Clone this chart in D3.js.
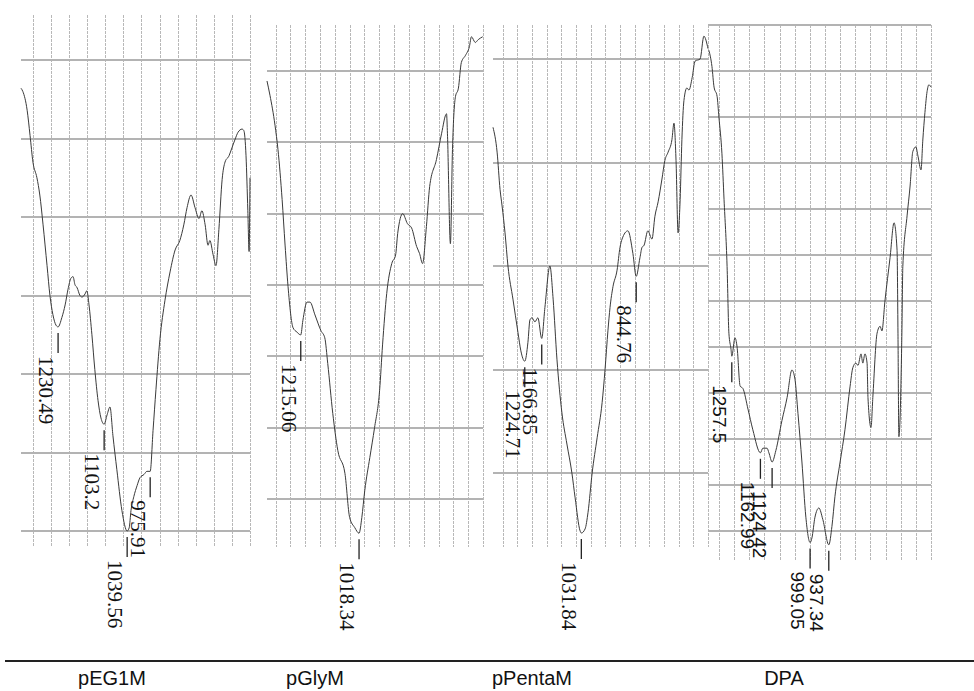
<!DOCTYPE html>
<html>
<head>
<meta charset="utf-8">
<script src="https://cdn.jsdelivr.net/npm/d3@7"></script>
<style>
  body { margin: 0; background: #fff; }
  svg { display: block; }
</style>
</head>
<body>
<div id="chart"></div>
<script>
// sample names under the baseline
const categories = ['pEG1M', 'pGlyM', 'pPentaM', 'DPA'];

// spectra: [wavenumber cm-1, transmittance %]
const specEG1M = [[1333,78.2],[1328,78.0],[1316,76.8],[1308,75.2],[1300,73.5],[1289,72.5],[1281,71.4],[1272,69.5],[1261,66.9],[1253,65.0],[1245,63.8],[1236,63.1],[1230.5,63.0],[1220,63.6],[1211,64.4],[1203,65.4],[1195,66.1],[1189,66.2],[1184,65.7],[1178,65.5],[1170,65.0],[1164,64.9],[1156,65.1],[1151,65.3],[1145,64.4],[1137,62.5],[1129,60.3],[1120,58.3],[1112,57.2],[1103.2,56.8],[1095,57.4],[1087,57.9],[1079,56.1],[1068,53.9],[1054,51.3],[1039.6,50.0],[1034,50.2],[1029,51.3],[1021,52.2],[1012,52.9],[1004,53.4],[993,53.6],[985,53.8],[975.9,53.8],[968,56.4],[960,59.0],[949,62.2],[935,64.7],[921,66.5],[907,67.9],[894,68.5],[883,69.5],[874,70.6],[863,71.4],[852,70.6],[841,69.9],[833,70.4],[824,69.5],[816,68.2],[811,68.5],[802,67.6],[794,66.9],[786,69.2],[777,72.4],[769,73.5],[758,73.9],[750,74.4],[742,74.9],[733,75.4],[722,75.6],[717,75.5],[711,73.9],[706,70.4],[702.5,67.8],[700,72.5]];

const specGlyM = [[1329,69.3],[1319,68.3],[1302,66.2],[1292,64.5],[1278,61.0],[1268,57.8],[1258,54.9],[1241,52.0],[1228,51.7],[1215.1,51.5],[1208,52.5],[1194,53.8],[1184,53.8],[1167,52.9],[1147,51.8],[1134,51.3],[1124,49.5],[1107,46.0],[1090,43.4],[1066,41.8],[1050,38.7],[1033,38.0],[1018.3,37.6],[1009,38.7],[999,40.6],[982,42.9],[966,45.0],[949,47.6],[939,50.8],[925,54.4],[908,56.5],[895,57.1],[888,58.6],[871,60.0],[855,59.3],[841,59.0],[824,57.7],[814,57.2],[804,56.5],[791,59.1],[780,61.9],[757,63.8],[740,65.6],[723,67.0],[720,65.6],[710,57.9],[703,64.5],[693,68.2],[683,68.8],[673,70.6],[659,71.1],[646,71.7],[639,72.4],[626,72.0],[616,72.2],[601,72.4]];

const specPentaM = [[1333,66.7],[1319,65.5],[1309,63.7],[1302,62.9],[1292,61.6],[1282,60.0],[1265,58.4],[1248,56.8],[1238,55.9],[1224.7,55.4],[1214,56.3],[1207,57.4],[1200,57.5],[1190,57.3],[1180,57.5],[1166.9,56.5],[1156,58.0],[1139,60.0],[1128,58.4],[1115,55.5],[1098,52.9],[1081,51.4],[1064,50.0],[1053,48.8],[1036,47.2],[1031.8,47.1],[1019,47.3],[1009,48.1],[995,50.0],[978,51.7],[961,53.4],[951,55.0],[941,56.9],[934,58.0],[924,59.0],[910,59.8],[900,60.9],[893,61.3],[873,61.7],[856,60.6],[844.8,59.5],[832,60.4],[825,60.9],[818,61.0],[805,61.7],[791,61.3],[781,62.4],[770,63.1],[757,64.2],[747,65.1],[736,65.5],[723,66.1],[716,66.9],[709,65.1],[702,61.6],[695,63.2],[689,66.1],[682,68.0],[672,68.6],[665,68.5],[654,69.1],[644,69.9],[627,70.0],[614,71.1],[600,70.5]];

const specDPA = [[1333,50.9],[1323,50.2],[1316,49.3],[1306,48.9],[1300,48.0],[1290,46.4],[1283,44.4],[1273,41.5],[1267,38.6],[1260,37.9],[1257.5,37.6],[1247,38.4],[1240,38.0],[1230,36.3],[1221,36.2],[1204,35.3],[1188,34.4],[1163,33.4],[1155,33.6],[1141,33.6],[1135,33.4],[1124.4,33.0],[1112,33.5],[1092,34.8],[1075,35.8],[1059,37.0],[1049,36.6],[1039,35.1],[1026,33.0],[1013,30.6],[999.1,29.5],[993,29.7],[983,30.6],[970,31.0],[957,30.5],[937.3,29.4],[927,30.2],[917,31.5],[900,33.0],[884,34.4],[867,36.3],[858,37.1],[848,37.3],[841,37.2],[831,37.7],[825,37.3],[818,37.7],[811,37.3],[808,35.8],[798,34.5],[792,35.8],[778,38.6],[768,38.9],[762,38.7],[752,40.0],[735,41.9],[722,43.4],[712,42.2],[709,38.6],[706,34.1],[696,38.7],[693,41.5],[679,43.7],[669,45.0],[660,46.5],[650,46.7],[643,46.3],[633,45.7],[627,47.0],[620,48.2],[613,49.1],[607,49.4],[600,49.3]];

// labelled peaks (cm-1)
const peaksEG1M = [1230.49, 1103.2, 1039.56, 975.91];
const peaksGlyM = [1215.06, 1018.34];
const peaksPentaM = [1224.71, 1166.85, 1031.84, 844.76];
const peaksDPA = [1257.5, 1162.99, 1124.42, 999.05, 937.34];

// axis domains per panel
const wnDomains = [[1333, 700], [1329, 600], [1333, 600], [1336, 600]];
const tDomains = [[50, 80], [40, 70], [50, 70], [30, 52]];
const tSteps = [5, 5, 5, 2];
const wnGridTicks = d3.range(1300, 599, -50);

// layout only (pixels)
const panels = [
  {spec: specEG1M, peaks: peaksEG1M, x: [21, 250], y: [531, 60], grid: [15, 546], font: 'Liberation Serif', fs: 21, capX: 112},
  {spec: specGlyM, peaks: peaksGlyM, x: [267, 483], y: [499, 71], grid: [25, 547], font: 'Liberation Serif', fs: 21, capX: 315},
  {spec: specPentaM, peaks: peaksPentaM, x: [493, 708], y: [473, 59], grid: [25, 547], font: 'Liberation Serif', fs: 21, capX: 532},
  {spec: specDPA, peaks: peaksDPA, x: [708, 931], y: [531, 25], grid: [25, 560], font: 'Liberation Sans', fs: 19, capX: 784}
];

let width = 974, height = 691;

let svg = d3.select('#chart').append('svg')
  .attr('width', width)
  .attr('height', height);

let gridLayer = svg.append('g');
let lineLayer = svg.append('g');

panels.forEach((p, i) => {
  let x = d3.scaleLinear().domain(wnDomains[i]).range(p.x);
  let y = d3.scaleLinear().domain(tDomains[i]).range(p.y);

  // vertical dashed grid
  let vt = wnGridTicks.filter(d => d <= wnDomains[i][0] && d >= wnDomains[i][1]);
  gridLayer.append('g')
    .selectAll('line')
    .data(vt)
    .enter()
    .append('line')
    .attr('x1', d => Math.round(x(d)) + 0.5)
    .attr('x2', d => Math.round(x(d)) + 0.5)
    .attr('y1', p.grid[0])
    .attr('y2', p.grid[1])
    .style('stroke', '#b8b8b8')
    .style('stroke-width', 1)
    .style('stroke-dasharray', '3,1');

  // horizontal solid grid
  let ht = d3.range(tDomains[i][0], tDomains[i][1] + tSteps[i] / 2, tSteps[i]);
  gridLayer.append('g')
    .selectAll('line')
    .data(ht)
    .enter()
    .append('line')
    .attr('x1', p.x[0])
    .attr('x2', p.x[1])
    .attr('y1', d => Math.round(y(d)))
    .attr('y2', d => Math.round(y(d)))
    .style('stroke', '#b3b3b3')
    .style('stroke-width', 2);

  // spectrum
  let line = d3.line()
    .x(d => x(d[0]))
    .y(d => y(d[1]))
    .curve(d3.curveMonotoneX);

  lineLayer.append('path')
    .datum(p.spec)
    .attr('d', line)
    .style('fill', 'none')
    .style('stroke', '#3a3a3a')
    .style('stroke-width', 1);

  // peak markers + vertical labels
  let g = lineLayer.append('g')
    .selectAll('g')
    .data(p.peaks)
    .enter()
    .append('g');

  let tAt = wn => {
    let best = p.spec[0];
    p.spec.forEach(d => { if (Math.abs(d[0] - wn) < Math.abs(best[0] - wn)) best = d; });
    return best[1];
  };

  g.append('line')
    .attr('x1', d => x(d))
    .attr('x2', d => x(d))
    .attr('y1', d => y(tAt(d)) + 6)
    .attr('y2', d => y(tAt(d)) + 26)
    .style('stroke', '#222')
    .style('stroke-width', 1.3);

  g.append('text')
    .text(d => d)
    .attr('transform', d => 'translate(' + (x(d) - 19) + ',' + (y(tAt(d)) + 29) + ') rotate(90)')
    .style('font-family', p.font)
    .style('font-size', p.fs + 'px')
    .style('fill', '#111');

  // sample caption
  svg.append('text')
    .text(categories[i])
    .attr('x', p.capX)
    .attr('y', 685)
    .style('text-anchor', 'middle')
    .style('font-family', 'Liberation Sans')
    .style('font-size', '20px')
    .style('fill', '#111');
});

// rule above the captions
svg.append('line')
  .attr('x1', 5)
  .attr('x2', width)
  .attr('y1', 661)
  .attr('y2', 661)
  .style('stroke', '#222')
  .style('stroke-width', 2);
</script>
</body>
</html>
